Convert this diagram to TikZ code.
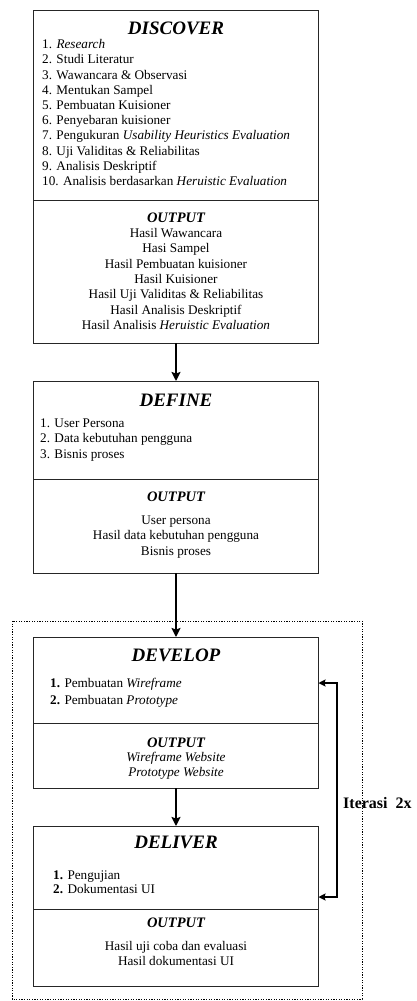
\documentclass[tikz,border=0pt]{standalone}
\usepackage{fontspec}
\setmainfont{Liberation Serif}
\usetikzlibrary{positioning, arrows.meta}

\begin{document}
\begin{tikzpicture}[
  stage/.style={rectangle, draw=black!85, line width=0.8pt,
                minimum width=285pt, inner sep=0pt, outer sep=0pt},
  ttl/.style={font=\fontsize{19}{22}\selectfont\bfseries\itshape, inner sep=0pt},
  outhd/.style={font=\fontsize{14.5}{17}\selectfont\bfseries\itshape, inner sep=0pt},
  txt/.style={font=\fontsize{13.2}{15.3}\selectfont, inner sep=0pt, align=left},
  res/.style={txt, align=center},
  arr/.style={-{Stealth[length=9pt, width=9pt, inset=1.5pt]}, line width=1.8pt},
  loopback/.style={{Stealth[length=7pt, width=7pt, inset=1pt]}-{Stealth[length=7pt, width=7pt, inset=1pt]},
                   line width=1.4pt},
  frame/.style={draw, line width=0.8pt, dash pattern=on 1.2pt off 1.4pt},
  lbl/.style={font=\fontsize{16}{19}\selectfont\bfseries, inner sep=0pt}
]
  \useasboundingbox (0,0) rectangle (416pt,-1001pt);

  % Stage boxes
  \node[stage, minimum height=190pt] (disc) at (176pt,-105pt) {};
  \node[stage, minimum height=143pt, below=0pt of disc]    (discout) {};
  \node[stage, minimum height=98pt,  below=38pt of discout] (def) {};
  \node[stage, minimum height=94pt,  below=0pt of def]     (defout) {};
  \node[stage, minimum height=86pt,  below=64pt of defout] (dev) {};
  \node[stage, minimum height=65pt,  below=0pt of dev]     (devout) {};
  \node[stage, minimum height=83pt,  below=38pt of devout] (del) {};
  \node[stage, minimum height=77pt,  below=0pt of del]     (delout) {};

  % Discover
  \node[ttl, below=11.7pt of disc.north] (disct) {DISCOVER};
  \node[txt, below right=29.3pt and 8.5pt of disc.north west, font=\fontsize{13.2}{15.2}\selectfont] (discl)
    {1. \textit{Research}\\
     2. Studi Literatur\\
     3. Wawancara \& Observasi\\
     4. Mentukan Sampel\\
     5. Pembuatan Kuisioner\\
     6. Penyebaran kuisioner\\
     7. Pengukuran \textit{Usability Heuristics Evaluation}\\
     8. Uji Validitas \& Reliabilitas\\
     9. Analisis Deskriptif\\
     10. Analisis berdasarkan \textit{Heruistic Evaluation}};
  \node[outhd, below=12.2pt of discout.north] (discoh) {OUTPUT};
  \node[res, below=28.3pt of discout.north] (discr)
    {Hasil Wawancara\\
     Hasi Sampel\\
     Hasil Pembuatan kuisioner\\
     Hasil Kuisioner\\
     Hasil Uji Validitas \& Reliabilitas\\
     Hasil Analisis Deskriptif\\
     Hasil Analisis \textit{Heruistic Evaluation}};

  % Define
  \node[ttl, below=12.7pt of def.north] (deft) {DEFINE};
  \node[txt, below right=37.3pt and 6.5pt of def.north west, font=\fontsize{13.2}{15.5}\selectfont] (defl)
    {1. User Persona\\
     2. Data kebutuhan pengguna\\
     3. Bisnis proses};
  \node[outhd, below=12.2pt of defout.north] (defoh) {OUTPUT};
  \node[res, below=36.3pt of defout.north, font=\fontsize{13.2}{15.5}\selectfont] (defr)
    {User persona\\
     Hasil data kebutuhan pengguna\\
     Bisnis proses};

  % Develop
  \node[ttl, below=11.7pt of dev.north] (devt) {DEVELOP};
  \node[txt, below right=41.3pt and 16.5pt of dev.north west, font=\fontsize{13.2}{17}\selectfont] (devl)
    {\textbf{1.} Pembuatan \textit{Wireframe}\\
     \textbf{2.} Pembuatan \textit{Prototype}};
  \node[outhd, below=14.2pt of devout.north] (devoh) {OUTPUT};
  \node[res, below=29.3pt of devout.north, font=\fontsize{13.2}{15}\selectfont\itshape] (devr)
    {Wireframe Website\\
     Prototype Website};

  % Deliver
  \node[ttl, below=9.7pt of del.north] (delt) {DELIVER};
  \node[txt, below right=44.3pt and 19.5pt of del.north west, font=\fontsize{13.2}{14.5}\selectfont] (dell)
    {\textbf{1.} Pengujian\\
     \textbf{2.} Dokumentasi UI};
  \node[outhd, below=8.2pt of delout.north] (deloh) {OUTPUT};
  \node[res, below=32.3pt of delout.north, font=\fontsize{13.2}{15}\selectfont] (delr)
    {Hasil uji coba dan evaluasi\\
     Hasil dokumentasi UI};

  % Iteration frame
  \coordinate (frnw) at (12pt,-621pt);
  \coordinate (frse) at (362pt,-999pt);
  \draw[frame] (frnw) rectangle (frse);

  % Arrows
  \draw[arr] (discout.south) -- (def.north);
  \draw[arr] (defout.south) -- (dev.north);
  \draw[arr] (devout.south) -- (del.north);
  \coordinate (itr) at (337pt,-790pt);
  \draw[loopback] ([yshift=-29.5pt]del.east) -| (itr) |- ([yshift=-3pt]dev.east);
  \node[lbl, right=6pt of itr, yshift=-13pt] (iter) {Iterasi\ \ 2x};
\end{tikzpicture}
\end{document}
